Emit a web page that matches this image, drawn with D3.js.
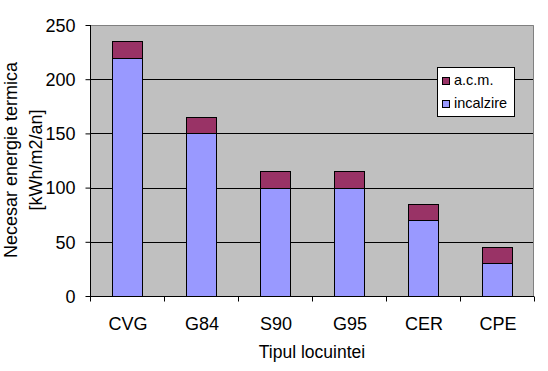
<!DOCTYPE html>
<html>
<head>
<meta charset="utf-8">
<script src="https://cdn.jsdelivr.net/npm/d3@7"></script>
<style>
  body { margin: 0; background: #fff; }
  text { font-family: "Liberation Sans", Arial, sans-serif; fill: #000; }
</style>
</head>
<body>
<script>
// date
const categorii = ["CVG", "G84", "S90", "G95", "CER", "CPE"]
const incalzire = [220, 150, 100, 100, 70, 30]
const acm = [15, 15, 15, 15, 15, 15]
const serii = ["incalzire", "a.c.m."]
const yTicks = [0, 50, 100, 150, 200, 250]

const culori = { "incalzire": "#9999FF", "a.c.m.": "#993366" }

const W = 548, H = 371
const pL = 90, pR = 534, pT = 25, pB = 296

const svg = d3.select("body")
    .append("svg")
    .attr("width", W)
    .attr("height", H)

const x = d3.scaleBand()
    .domain(categorii)
    .range([pL, pR])
    .paddingInner(0.6)
    .paddingOuter(0.3)

const xb = d3.scaleBand()
    .domain(categorii)
    .range([pL, pR])

const y = d3.scaleLinear()
    .domain([0, 250])
    .range([pB, pT])

// zona graficului
svg.append("rect")
    .attr("x", pL)
    .attr("y", pT)
    .attr("width", pR - pL)
    .attr("height", pB - pT)
    .attr("fill", "#C0C0C0")

// linii de grila
svg.append("g")
    .selectAll("line")
    .data(yTicks.filter(d => d > 0 && d < 250))
    .enter()
    .append("line")
    .attr("x1", pL)
    .attr("x2", pR)
    .attr("y1", d => Math.round(y(d)) + 0.5)
    .attr("y2", d => Math.round(y(d)) + 0.5)
    .attr("stroke", "#000")

// chenar sus si dreapta
svg.append("path")
    .attr("d", `M${pL},${pT + 0.5}H${pR - 0.5}V${pB}`)
    .attr("fill", "none")
    .attr("stroke", "#808080")

// bare stivuite
const stiva = d3.stack().keys(serii)(categorii.map((c, i) => ({
    cat: c, "incalzire": incalzire[i], "a.c.m.": acm[i]
})))

svg.append("g")
    .selectAll("g")
    .data(stiva)
    .enter()
    .append("g")
    .attr("fill", d => culori[d.key])
    .selectAll("rect")
    .data(d => d)
    .enter()
    .append("rect")
    .attr("x", d => Math.round(x(d.data.cat)) + 0.5)
    .attr("y", d => Math.round(y(d[1])) + 0.5)
    .attr("width", Math.round(x.bandwidth()))
    .attr("height", d => Math.round(y(d[0])) - Math.round(y(d[1])))
    .attr("stroke", "#000")

// axa Y
const axaY = svg.append("g")
    .attr("transform", `translate(${pL + 0.5},0)`)
    .call(d3.axisLeft(y).tickValues(yTicks).tickSize(5).tickPadding(10))
axaY.select(".domain").attr("d", `M0,${pT}V${pB + 0.5}`)
axaY.selectAll("line").attr("stroke", "#000")
axaY.selectAll("text")
    .style("font-size", "18px")
    .attr("dy", "0.35em")

// axa X
const axaX = svg.append("g")
    .attr("transform", `translate(0,${pB + 0.5})`)
axaX.append("line")
    .attr("x1", pL)
    .attr("x2", pR)
    .attr("stroke", "#000")
axaX.selectAll(".tk")
    .data(categorii.concat(["end"]))
    .enter()
    .append("line")
    .attr("x1", (d, i) => Math.round(pL + i * xb.bandwidth()) + 0.5)
    .attr("x2", (d, i) => Math.round(pL + i * xb.bandwidth()) + 0.5)
    .attr("y1", 0)
    .attr("y2", 5)
    .attr("stroke", "#000")
axaX.selectAll(".lbl")
    .data(categorii)
    .enter()
    .append("text")
    .attr("x", d => xb(d) + xb.bandwidth() / 2 + 1)
    .attr("y", 33)
    .attr("text-anchor", "middle")
    .style("font-size", "18px")
    .text(d => d)

// titluri axe
svg.append("text")
    .attr("x", (pL + pR) / 2)
    .attr("y", 358)
    .attr("text-anchor", "middle")
    .style("font-size", "17.5px")
    .text("Tipul locuintei")

const titluY = svg.append("text")
    .attr("transform", "translate(0,160) rotate(-90)")
    .attr("text-anchor", "middle")
    .style("font-size", "18px")
titluY.append("tspan").attr("x", 0).attr("y", 17).text("Necesar energie termica")
titluY.append("tspan").attr("x", 0).attr("y", 42).text("[kWh/m2/an]")

// legenda
const leg = svg.append("g").attr("transform", "translate(437,67)")
leg.append("rect")
    .attr("x", 0.5)
    .attr("y", 0.5)
    .attr("width", 77)
    .attr("height", 49)
    .attr("fill", "#fff")
    .attr("stroke", "#000")

const elemente = ["a.c.m.", "incalzire"]
const item = leg.selectAll(".it")
    .data(elemente)
    .enter()
    .append("g")
    .attr("transform", (d, i) => `translate(5,${10 + i * 23})`)
item.append("rect")
    .attr("x", 0.5)
    .attr("y", 0.5)
    .attr("width", 7)
    .attr("height", 7)
    .attr("fill", d => culori[d])
    .attr("stroke", "#000")
item.append("text")
    .attr("x", 12)
    .attr("y", 8)
    .style("font-size", "14.5px")
    .text(d => d)
</script>
</body>
</html>
